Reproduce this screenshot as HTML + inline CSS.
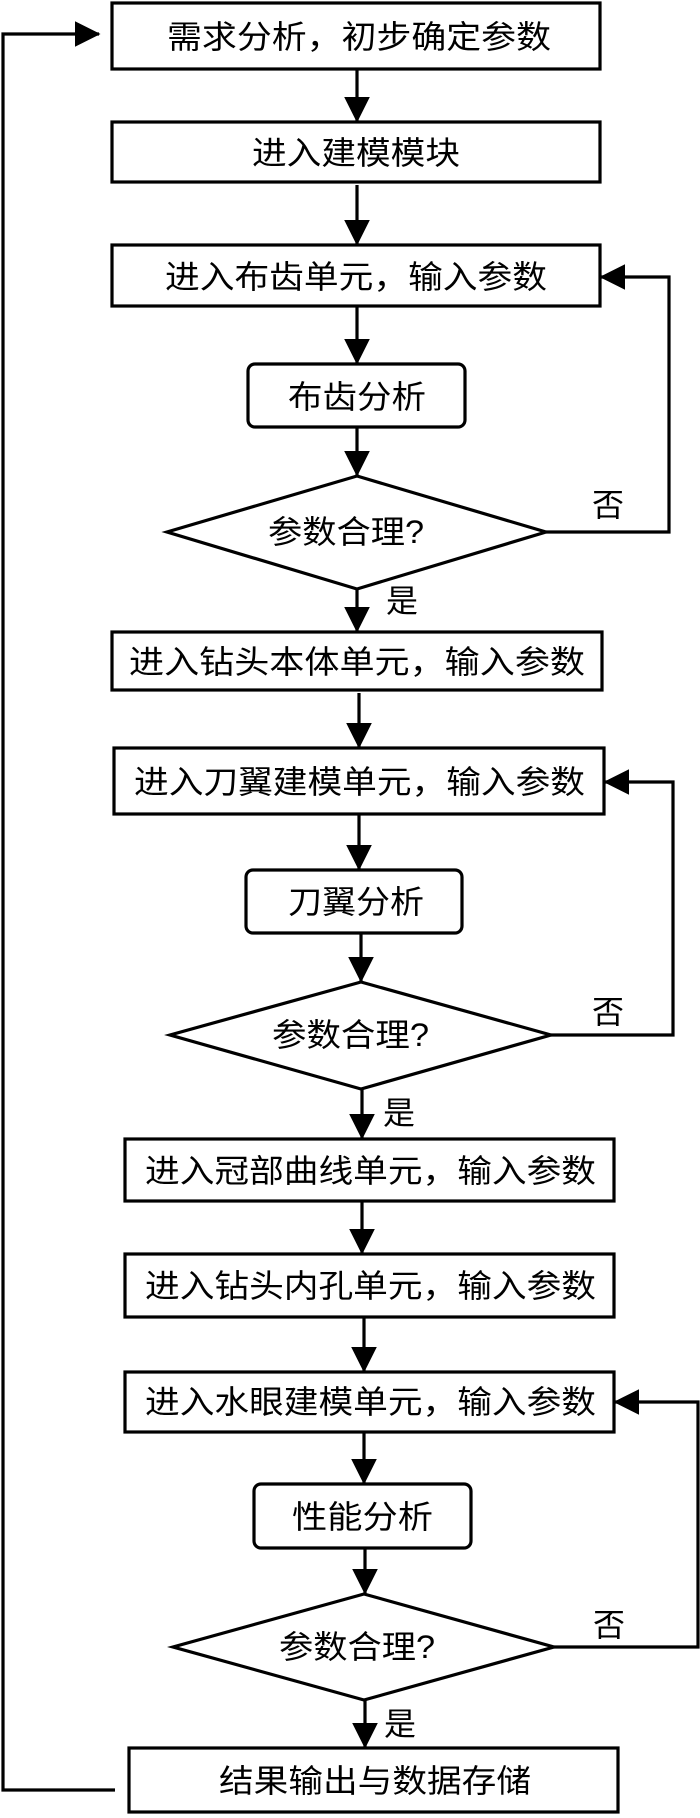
<!DOCTYPE html>
<html><head><meta charset="utf-8"><style>
html,body{margin:0;padding:0;background:#fff;}
svg{display:block;}
text{font-family:"Liberation Sans","Noto Sans CJK SC",sans-serif;font-size:32px;fill:#000;}
</style></head><body>
<svg width="700" height="1818" viewBox="0 0 700 1818" xmlns="http://www.w3.org/2000/svg">
<defs>
<marker id="a" markerWidth="8" markerHeight="8" refX="7.5" refY="4" orient="auto" markerUnits="strokeWidth">
<path d="M0,0 L8,4 L0,8 Z" fill="#000"/></marker>
</defs>
<g fill="none" stroke="#000" stroke-width="3.2">
<!-- boxes -->
<rect x="112" y="3" width="488" height="66"/>
<rect x="112" y="122" width="488" height="60"/>
<rect x="112" y="245" width="488" height="61"/>
<rect x="248" y="364" width="217" height="63" rx="7"/>
<polygon points="357,476 546,532 357,589 167,532"/>
<rect x="112" y="632" width="490" height="58"/>
<rect x="114" y="748" width="490" height="66"/>
<rect x="246" y="870" width="216" height="63" rx="7"/>
<polygon points="361,982 551,1035 361,1089 170,1035"/>
<rect x="125" y="1139" width="489" height="62"/>
<rect x="125" y="1254" width="489" height="63"/>
<rect x="125" y="1372" width="489" height="60"/>
<rect x="254" y="1484" width="217" height="64" rx="7"/>
<polygon points="364,1594 554,1647 364,1700 173,1647"/>
<rect x="129" y="1748" width="489" height="64"/>
<!-- arrows -->
<path d="M357,69 V121" marker-end="url(#a)"/>
<path d="M357,185 V244" marker-end="url(#a)"/>
<path d="M357,306 V363" marker-end="url(#a)"/>
<path d="M357,427 V475" marker-end="url(#a)"/>
<path d="M357,589 V631" marker-end="url(#a)"/>
<path d="M359,693 V747" marker-end="url(#a)"/>
<path d="M359,814 V869" marker-end="url(#a)"/>
<path d="M361,933 V981" marker-end="url(#a)"/>
<path d="M362,1089 V1138" marker-end="url(#a)"/>
<path d="M362,1201 V1253" marker-end="url(#a)"/>
<path d="M364,1317 V1371" marker-end="url(#a)"/>
<path d="M364,1432 V1483" marker-end="url(#a)"/>
<path d="M365,1548 V1593" marker-end="url(#a)"/>
<path d="M365,1700 V1747" marker-end="url(#a)"/>
<!-- feedback -->
<path d="M546,532 H669 V277 H601" marker-end="url(#a)"/>
<path d="M551,1035 H673 V782 H605" marker-end="url(#a)"/>
<path d="M554,1647 H698 V1402 H615" marker-end="url(#a)"/>
<path d="M115,1790 H3 V34 H99" marker-end="url(#a)"/>
</g>
<g>
<text x="167" y="48" textLength="384" lengthAdjust="spacingAndGlyphs">需求分析，初步确定参数</text>
<text x="252" y="164" textLength="208" lengthAdjust="spacingAndGlyphs">进入建模模块</text>
<text x="165" y="288" textLength="382" lengthAdjust="spacingAndGlyphs">进入布齿单元，输入参数</text>
<text x="288" y="408" textLength="138" lengthAdjust="spacingAndGlyphs">布齿分析</text>
<text x="268" y="543" textLength="156" lengthAdjust="spacingAndGlyphs" font-size="29">参数合理?</text>
<text x="592" y="516">否</text>
<text x="386" y="612">是</text>
<text x="129" y="673" textLength="456" lengthAdjust="spacingAndGlyphs">进入钻头本体单元，输入参数</text>
<text x="134" y="793" textLength="451" lengthAdjust="spacingAndGlyphs">进入刀翼建模单元，输入参数</text>
<text x="288" y="913" textLength="136" lengthAdjust="spacingAndGlyphs">刀翼分析</text>
<text x="272" y="1046" textLength="157" lengthAdjust="spacingAndGlyphs" font-size="29">参数合理?</text>
<text x="592" y="1023">否</text>
<text x="383" y="1124">是</text>
<text x="145" y="1182" textLength="451" lengthAdjust="spacingAndGlyphs">进入冠部曲线单元，输入参数</text>
<text x="145" y="1297" textLength="451" lengthAdjust="spacingAndGlyphs">进入钻头内孔单元，输入参数</text>
<text x="145" y="1413" textLength="451" lengthAdjust="spacingAndGlyphs">进入水眼建模单元，输入参数</text>
<text x="292" y="1528" textLength="141" lengthAdjust="spacingAndGlyphs">性能分析</text>
<text x="279" y="1658" textLength="156" lengthAdjust="spacingAndGlyphs" font-size="29">参数合理?</text>
<text x="593" y="1636">否</text>
<text x="384" y="1735">是</text>
<text x="219" y="1792" textLength="312" lengthAdjust="spacingAndGlyphs">结果输出与数据存储</text>
</g>
</svg>
</body></html>
